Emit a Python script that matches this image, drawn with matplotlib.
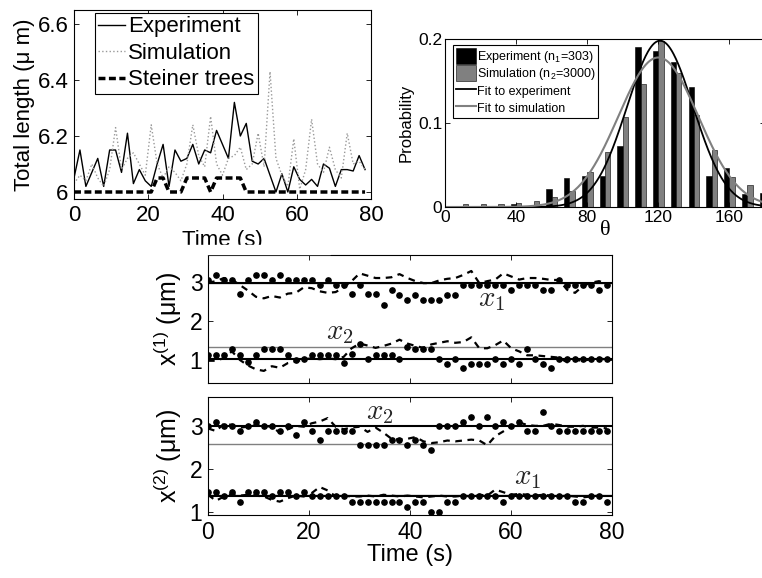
#! /usr/bin/env python

# Figure: total length over time, angle histogram, and node positions x1/x2

import numpy as np
import matplotlib
matplotlib.use('Agg')
import matplotlib.pyplot as plt
from matplotlib.patches import Rectangle

plt.rcParams['font.family'] = ['Liberation Sans', 'DejaVu Sans']
plt.rcParams['mathtext.fontset'] = 'custom'
plt.rcParams['mathtext.rm'] = 'Liberation Sans'
plt.rcParams['mathtext.it'] = 'Liberation Sans:italic'
plt.rcParams['axes.linewidth'] = 0.8
for ax_name in ['xtick', 'ytick']:
    plt.rcParams[ax_name + '.direction'] = 'in'
    plt.rcParams[ax_name + '.major.size'] = 3.5
    plt.rcParams[ax_name + '.major.width'] = 0.6
plt.rcParams['xtick.top'] = True
plt.rcParams['ytick.right'] = True

# ---- data: total length (top left) ----
len_dt = 1.6  # s between frames
total_exp = [6.05, 6.15, 6.02, 6.07, 6.12, 6.02, 6.15, 6.15, 6.07, 6.21,
             6.03, 6.08, 6.04, 6.02, 6.10, 6.17, 6.02, 6.15, 6.11, 6.12,
             6.17, 6.10, 6.15, 6.14, 6.22, 6.17, 6.12, 6.32, 6.20, 6.245,
             6.11, 6.10, 6.12, 6.06, 6.00, 6.065, 6.00, 6.09, 6.045, 6.025,
             6.045, 6.02, 6.10, 6.085, 6.02, 6.08, 6.08, 6.075, 6.13, 6.08]
total_sim = [6.03, 6.06, 6.04, 6.10, 6.05, 6.02, 6.08, 6.23, 6.08, 6.12,
             6.14, 6.10, 6.06, 6.24, 6.10, 6.05, 6.09, 6.07, 6.04, 6.10,
             6.24, 6.13, 6.09, 6.27, 6.10, 6.06, 6.12, 6.13, 6.16, 6.08,
             6.10, 6.21, 6.09, 6.43, 6.12, 6.06, 6.02, 6.19, 6.01, 6.08,
             6.26, 6.10, 6.07, 6.16, 6.08, 6.05, 6.21, 6.10, 6.11, 6.08]
total_steiner = ([6.00] * 14 + [6.05] * 2 + [6.00] * 3 + [6.05] * 4 + [6.00]
                 + [6.05] * 5 + [6.00] * 21)

# ---- data: angle histogram (top right) ----
theta_bins = [10, 20, 30, 40, 50, 60, 70, 80, 90, 100, 110, 120, 130, 140,
              150, 160, 170, 180]
hist_exp = [0, 0, 0, 0.004, 0, 0.021, 0.034, 0.037, 0.037, 0.073, 0.190,
            0.186, 0.173, 0.143, 0.037, 0.047, 0.015, 0.017]
hist_sim = [0.004, 0.004, 0.004, 0.005, 0.007, 0.012, 0.019, 0.042, 0.066,
            0.107, 0.146, 0.198, 0.159, 0.109, 0.068, 0.036, 0.026, 0.010]
fit_exp = {'mu': 121.0, 'sigma': 18.5, 'amp': 0.198}
fit_sim = {'mu': 120.0, 'sigma': 22.5, 'amp': 0.178}

# ---- data: positions (bottom panels) ----
pos_dt = 1.58
# panel 1: x^(1)
p1_x1_exp = [3.05, 3.18, 3.05, 3.05, 2.69, 3.05, 3.18, 3.18, 3.05, 3.18,
             3.05, 3.05, 3.05, 3.05, 2.92, 3.05, 2.92, 2.92, 2.69, 2.92,
             2.69, 2.69, 2.41, 2.80, 2.67, 2.54, 2.67, 2.54, 2.54, 2.54,
             2.67, 2.67, 2.92, 2.92, 2.92, 2.92, 2.92, 2.92, 2.80, 2.92,
             2.92, 2.92, 2.80, 2.80, 3.05, 2.92, 2.92, 2.92, 2.92, 2.80, 2.92]
p1_x1_sim = [2.98, 3.02, 3.10, 3.06, 2.92, 2.78, 2.62, 2.58, 2.64, 2.60,
             2.70, 2.72, 2.86, 2.84, 2.76, 2.72, 2.74, 2.86, 3.02, 3.22,
             3.16, 3.10, 3.10, 3.12, 3.20, 3.10, 3.02, 2.97, 2.97, 3.04,
             3.08, 3.10, 3.18, 3.28, 2.97, 3.02, 3.06, 3.22, 3.14, 3.06,
             3.10, 3.10, 3.08, 3.05, 3.05, 2.80, 2.72, 2.90, 2.98, 3.02, 2.96]
p1_x2_exp = [1.14, 1.14, 1.14, 1.29, 1.14, 0.95, 1.14, 1.29, 1.29, 1.29,
             1.14, 1.00, 1.02, 1.14, 1.14, 1.14, 1.14, 0.92, 1.16, 1.42,
             1.02, 1.14, 1.14, 1.14, 1.02, 1.34, 1.29, 1.29, 1.29, 1.02,
             0.89, 1.02, 0.79, 0.89, 0.89, 0.89, 1.02, 0.89, 1.02, 0.89,
             1.29, 1.02, 0.89, 0.79, 1.02, 1.02, 1.02, 1.02, 1.02, 1.02, 1.02]
p1_x2_sim = [0.98, 0.98, 1.05, 1.22, 1.00, 0.86, 0.76, 0.72, 0.84, 0.80,
             0.92, 0.96, 1.02, 1.04, 1.02, 1.04, 1.02, 1.08, 1.30, 1.42,
             1.37, 1.31, 1.36, 1.42, 1.52, 1.42, 1.36, 1.31, 1.40, 1.44,
             1.48, 1.44, 1.46, 1.58, 1.30, 1.30, 1.38, 1.50, 1.30, 1.22,
             1.12, 1.12, 1.10, 1.08, 1.06, 0.94, 1.00, 0.98, 1.02, 1.05, 1.00]
p1_mean_exp = [2.98, 1.02]
p1_mean_sim = [2.97, 1.33]
# panel 2: x^(2)
p2_x2_exp = [3.00, 3.10, 3.00, 3.00, 2.89, 3.00, 3.10, 3.00, 3.00, 2.89,
             3.00, 2.78, 3.10, 2.89, 2.68, 2.89, 2.89, 2.89, 2.89, 2.56,
             2.56, 2.56, 2.56, 2.68, 2.68, 2.56, 2.68, 2.56, 2.45, 3.00,
             3.00, 3.00, 3.10, 3.20, 3.00, 3.20, 3.00, 3.10, 3.00, 3.10,
             2.89, 2.89, 3.32, 3.00, 2.89, 2.89, 2.89, 2.89, 2.89, 2.89, 2.89]
p2_x2_sim = [2.94, 2.88, 3.05, 3.02, 2.96, 2.98, 3.02, 3.00, 2.98, 2.84,
             2.92, 3.00, 2.98, 3.06, 3.10, 3.18, 2.98, 2.92, 2.96, 2.98,
             2.86, 2.96, 2.84, 2.70, 2.68, 2.70, 2.74, 2.64, 2.60, 2.62,
             2.66, 2.64, 2.66, 2.68, 2.66, 2.55, 2.76, 2.87, 2.98, 3.08,
             3.02, 3.00, 3.00, 3.05, 3.02, 2.98, 2.98, 3.00, 2.96, 2.96, 2.94]
p2_x1_exp = [1.46, 1.46, 1.37, 1.46, 1.24, 1.46, 1.46, 1.46, 1.37, 1.46,
             1.46, 1.37, 1.46, 1.37, 1.37, 1.37, 1.37, 1.37, 1.24, 1.24,
             1.24, 1.24, 1.24, 1.24, 1.24, 1.12, 1.24, 1.24, 1.00, 1.00,
             1.24, 1.24, 1.37, 1.37, 1.37, 1.37, 1.37, 1.24, 1.37, 1.37,
             1.37, 1.37, 1.37, 1.37, 1.37, 1.37, 1.24, 1.24, 1.37, 1.37, 1.24]
p2_x1_sim = [1.40, 1.26, 1.36, 1.42, 1.38, 1.40, 1.38, 1.36, 1.28, 1.24,
             1.32, 1.38, 1.36, 1.44, 1.58, 1.50, 1.36, 1.38, 1.36, 1.36,
             1.38, 1.36, 1.40, 1.38, 1.36, 1.38, 1.36, 1.34, 1.36, 1.38,
             1.36, 1.36, 1.38, 1.36, 1.40, 1.38, 1.52, 1.46, 1.40, 1.42,
             1.40, 1.38, 1.40, 1.38, 1.36, 1.38, 1.36, 1.34, 1.36, 1.38, 1.36]
p2_mean_exp = [2.99, 1.36]
p2_mean_sim = [2.58, 1.39]


def gauss(x, p):
    return p['amp'] * np.exp(-(x - p['mu']) ** 2 / (2 * p['sigma'] ** 2))


W, H = 762, 578
fig = plt.figure(figsize=(W / 100, H / 100), dpi=100)


def px_axes(left, top, right, bottom):
    # axes from pixel box
    return fig.add_axes([left / W, 1 - bottom / H, (right - left) / W,
                         (bottom - top) / H])


# ---- top left: total length ----
ax1 = px_axes(74, 10, 371, 199)
t_len = np.arange(len(total_exp)) * len_dt
ax1.plot(t_len, total_exp, color='black', lw=1.0, label='Experiment')
ax1.plot(t_len, total_sim, color='0.6', lw=1.0, ls=':', label='Simulation')
ax1.plot(t_len, total_steiner, color='black', lw=2.5, ls='--',
         dashes=(2.0, 1.0), label='Steiner trees')
ax1.set_xlim(0, 80)
ax1.set_ylim(5.975, 6.65)
ax1.set_xticks([0, 20, 40, 60, 80])
ax1.set_yticks([6.0, 6.2, 6.4, 6.6])
ax1.set_yticklabels(['6', '6.2', '6.4', '6.6'])
ax1.tick_params(labelsize=16, pad=4)
ax1.set_xlabel('Time (s)', fontsize=16, labelpad=3)
ax1.set_ylabel('Total length (\u03bc m)', fontsize=16, labelpad=2)
leg1 = ax1.legend(loc='upper left', bbox_to_anchor=(0.071, 0.984),
                  borderaxespad=0, fontsize=16, fancybox=False,
                  edgecolor='black', framealpha=1, handlelength=1.2,
                  handletextpad=0.15, borderpad=0.15, labelspacing=0.25)
leg1.get_frame().set_linewidth(0.8)
# the bottom of the time label is cut off in the source figure
fig.add_artist(Rectangle((150 / W, 1 - 254 / H), 180 / W, 9 / H,
                         transform=fig.transFigure, color='white',
                         zorder=10))

# ---- top right: angle histogram ----
ax2 = px_axes(445, 39, 765, 207)
theta = np.array(theta_bins)
ax2.bar(theta - 1.5, hist_exp, width=3.0, color='black', edgecolor='black',
        lw=0.4, label='Experiment (n$_1$=303)')
ax2.bar(theta + 1.5, hist_sim, width=3.0, color='0.5', edgecolor='black',
        lw=0.4, label='Simulation (n$_2$=3000)')
theta_fine = np.linspace(0, 180, 400)
ax2.plot(theta_fine, gauss(theta_fine, fit_exp), color='black', lw=1.3,
         label='Fit to experiment')
ax2.plot(theta_fine, gauss(theta_fine, fit_sim), color='0.5', lw=1.5,
         label='Fit to simulation')
ax2.set_xlim(0, 180)
ax2.set_ylim(0, 0.2)
ax2.set_xticks([0, 40, 80, 120, 160])
ax2.set_yticks([0, 0.1, 0.2])
ax2.set_yticklabels(['0', '0.1', '0.2'])
ax2.tick_params(labelsize=12.5, pad=2)
ax2.set_xlabel('\u03b8', fontsize=16, family='Liberation Serif', labelpad=-3)
ax2.set_ylabel('Probability', fontsize=12, labelpad=3)
handles, labels = ax2.get_legend_handles_labels()
order = [2, 3, 0, 1]
leg2 = ax2.legend([handles[k] for k in order], [labels[k] for k in order],
                  loc='upper left', bbox_to_anchor=(0.025, 0.964),
                  borderaxespad=0, fontsize=9, fancybox=False,
                  edgecolor='black', framealpha=1, handlelength=1.6,
                  handleheight=1.6, handletextpad=0.1, borderpad=0.2,
                  labelspacing=0.05)
leg2.get_frame().set_linewidth(0.8)

# ---- bottom panels: positions ----
def pos_panel(ax, mean_exp, mean_sim, series):
    t_pos = np.arange(len(series[0][0])) * pos_dt
    for m in mean_sim:
        ax.axhline(m, color='0.5', lw=1.0, zorder=1)
    for m in mean_exp:
        ax.axhline(m, color='black', lw=1.5, zorder=2)
    for exp_vals, sim_vals in series:
        ax.plot(t_pos, sim_vals, color='black', lw=1.6, ls='--',
                dashes=(3, 2.5), zorder=3)
        ax.plot(t_pos, exp_vals, ls='none', marker='o', ms=3.8,
                color='black', zorder=4)
    ax.set_xlim(0, 80)
    ax.set_xticks([0, 20, 40, 60, 80])
    ax.set_yticks([1, 2, 3])
    ax.tick_params(labelsize=16.5, pad=4)


ax3 = px_axes(208, 255, 612, 383)
pos_panel(ax3, p1_mean_exp, p1_mean_sim,
          [(p1_x1_exp, p1_x1_sim), (p1_x2_exp, p1_x2_sim)])
ax3.set_ylim(0.41, 3.69)
ax3.set_xticklabels([])
ax3.set_ylabel('x$^{(1)}$ (\u03bcm)', fontsize=18, labelpad=4)
ax3.text(53.5, 2.55, '$x_1$', fontsize=21, math_fontfamily='cm',
         va='center', color='0.15')
ax3.text(23.3, 1.72, '$x_2$', fontsize=21, math_fontfamily='cm',
         va='center', color='0.15')

ax4 = px_axes(208, 397, 612, 515)
pos_panel(ax4, p2_mean_exp, p2_mean_sim,
          [(p2_x2_exp, p2_x2_sim), (p2_x1_exp, p2_x1_sim)])
ax4.set_ylim(0.93, 3.67)
ax4.set_xlabel('Time (s)', fontsize=17, labelpad=0)
ax4.set_ylabel('x$^{(2)}$ (\u03bcm)', fontsize=18, labelpad=4)
ax4.text(31.2, 3.32, '$x_2$', fontsize=21, math_fontfamily='cm',
         va='center', color='0.15')
ax4.text(60.5, 1.82, '$x_1$', fontsize=21, math_fontfamily='cm',
         va='center', color='0.15')

fig.savefig('out.png', dpi=100)
